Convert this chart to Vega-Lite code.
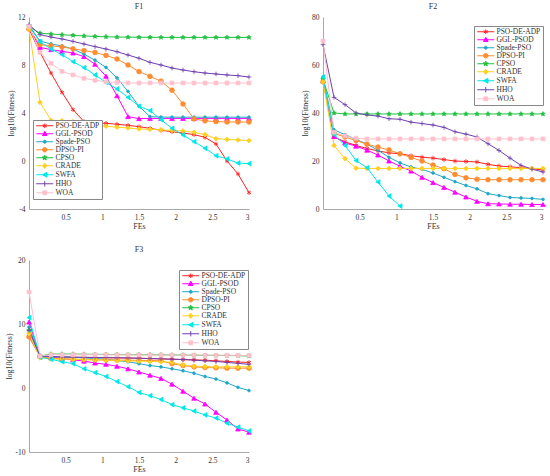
{
"$schema": "https://vega.github.io/schema/vega-lite/v6.json",
"background": "white",
"padding": {"left": 5, "top": 3, "right": 0, "bottom": 0},
"config": {
  "font": "Liberation Serif",
  "view": {"stroke": null},
  "locale": {"number": {"decimal": ".", "thousands": ",", "grouping": [3], "currency": ["$", ""], "minus": "-"}},
  "axis": {"grid": false, "ticks": true, "tickSize": 0, "labelOverlap": false, "labelSeparation": 0, "domainColor": "#a8a8a8", "labelColor": "#333333", "titleColor": "#333333", "labelFont": "Liberation Serif", "titleFont": "Liberation Serif", "labelFontSize": 7.5, "titleFontSize": 8, "titleFontWeight": "normal", "labelPadding": 4, "titlePadding": 2},
  "axisY": {"labelOverlap": false},
  "axisQuantitative": {"labelOverlap": false},
  "title": {"font": "Liberation Serif", "fontSize": 8, "fontWeight": "normal", "color": "#333333", "offset": 2}
},
"datasets": {
"f1": [
{"s":"PSO-DE-ADP","x":0,"y":11.0},{"s":"PSO-DE-ADP","x":0.15,"y":9.06},{"s":"PSO-DE-ADP","x":0.3,"y":7.33},{"s":"PSO-DE-ADP","x":0.45,"y":5.72},{"s":"PSO-DE-ADP","x":0.6,"y":4.28},{"s":"PSO-DE-ADP","x":0.75,"y":3.28},{"s":"PSO-DE-ADP","x":0.9,"y":3.17},{"s":"PSO-DE-ADP","x":1.05,"y":3.14},{"s":"PSO-DE-ADP","x":1.2,"y":3.06},{"s":"PSO-DE-ADP","x":1.35,"y":2.97},{"s":"PSO-DE-ADP","x":1.5,"y":2.86},{"s":"PSO-DE-ADP","x":1.65,"y":2.72},{"s":"PSO-DE-ADP","x":1.8,"y":2.56},{"s":"PSO-DE-ADP","x":1.95,"y":2.44},{"s":"PSO-DE-ADP","x":2.1,"y":2.33},{"s":"PSO-DE-ADP","x":2.25,"y":2.2},{"s":"PSO-DE-ADP","x":2.4,"y":1.97},{"s":"PSO-DE-ADP","x":2.55,"y":1.42},{"s":"PSO-DE-ADP","x":2.7,"y":0.0},{"s":"PSO-DE-ADP","x":2.85,"y":-1.08},{"s":"PSO-DE-ADP","x":3,"y":-2.64},
{"s":"GGL-PSOD","x":0,"y":11.1},{"s":"GGL-PSOD","x":0.15,"y":9.47},{"s":"GGL-PSOD","x":0.3,"y":9.28},{"s":"GGL-PSOD","x":0.45,"y":9.14},{"s":"GGL-PSOD","x":0.6,"y":9.0},{"s":"GGL-PSOD","x":0.75,"y":8.7},{"s":"GGL-PSOD","x":0.9,"y":8.06},{"s":"GGL-PSOD","x":1.05,"y":7.06},{"s":"GGL-PSOD","x":1.2,"y":5.44},{"s":"GGL-PSOD","x":1.35,"y":3.7},{"s":"GGL-PSOD","x":1.5,"y":3.53},{"s":"GGL-PSOD","x":1.65,"y":3.55},{"s":"GGL-PSOD","x":1.8,"y":3.55},{"s":"GGL-PSOD","x":1.95,"y":3.55},{"s":"GGL-PSOD","x":2.1,"y":3.55},{"s":"GGL-PSOD","x":2.25,"y":3.55},{"s":"GGL-PSOD","x":2.4,"y":3.55},{"s":"GGL-PSOD","x":2.55,"y":3.55},{"s":"GGL-PSOD","x":2.7,"y":3.55},{"s":"GGL-PSOD","x":2.85,"y":3.55},{"s":"GGL-PSOD","x":3,"y":3.55},
{"s":"Spade-PSO","x":0,"y":11.3},{"s":"Spade-PSO","x":0.15,"y":10.0},{"s":"Spade-PSO","x":0.3,"y":9.75},{"s":"Spade-PSO","x":0.45,"y":9.6},{"s":"Spade-PSO","x":0.6,"y":9.33},{"s":"Spade-PSO","x":0.75,"y":8.9},{"s":"Spade-PSO","x":0.9,"y":8.4},{"s":"Spade-PSO","x":1.05,"y":7.8},{"s":"Spade-PSO","x":1.2,"y":6.92},{"s":"Spade-PSO","x":1.35,"y":5.8},{"s":"Spade-PSO","x":1.5,"y":4.56},{"s":"Spade-PSO","x":1.65,"y":3.7},{"s":"Spade-PSO","x":1.8,"y":3.66},{"s":"Spade-PSO","x":1.95,"y":3.65},{"s":"Spade-PSO","x":2.1,"y":3.65},{"s":"Spade-PSO","x":2.25,"y":3.65},{"s":"Spade-PSO","x":2.4,"y":3.65},{"s":"Spade-PSO","x":2.55,"y":3.65},{"s":"Spade-PSO","x":2.7,"y":3.65},{"s":"Spade-PSO","x":2.85,"y":3.65},{"s":"Spade-PSO","x":3,"y":3.65},
{"s":"DPSO-PI","x":0,"y":11.0},{"s":"DPSO-PI","x":0.15,"y":9.7},{"s":"DPSO-PI","x":0.3,"y":9.6},{"s":"DPSO-PI","x":0.45,"y":9.5},{"s":"DPSO-PI","x":0.6,"y":9.35},{"s":"DPSO-PI","x":0.75,"y":9.2},{"s":"DPSO-PI","x":0.9,"y":9.05},{"s":"DPSO-PI","x":1.05,"y":8.8},{"s":"DPSO-PI","x":1.2,"y":8.5},{"s":"DPSO-PI","x":1.35,"y":8.0},{"s":"DPSO-PI","x":1.5,"y":7.45},{"s":"DPSO-PI","x":1.65,"y":7.05},{"s":"DPSO-PI","x":1.8,"y":6.65},{"s":"DPSO-PI","x":1.95,"y":5.9},{"s":"DPSO-PI","x":2.1,"y":4.75},{"s":"DPSO-PI","x":2.25,"y":3.5},{"s":"DPSO-PI","x":2.4,"y":3.35},{"s":"DPSO-PI","x":2.55,"y":3.28},{"s":"DPSO-PI","x":2.7,"y":3.25},{"s":"DPSO-PI","x":2.85,"y":3.25},{"s":"DPSO-PI","x":3,"y":3.25},
{"s":"CPSO","x":0,"y":11.2},{"s":"CPSO","x":0.15,"y":10.65},{"s":"CPSO","x":0.3,"y":10.58},{"s":"CPSO","x":0.45,"y":10.52},{"s":"CPSO","x":0.6,"y":10.47},{"s":"CPSO","x":0.75,"y":10.42},{"s":"CPSO","x":0.9,"y":10.38},{"s":"CPSO","x":1.05,"y":10.35},{"s":"CPSO","x":1.2,"y":10.33},{"s":"CPSO","x":1.35,"y":10.32},{"s":"CPSO","x":1.5,"y":10.31},{"s":"CPSO","x":1.65,"y":10.31},{"s":"CPSO","x":1.8,"y":10.3},{"s":"CPSO","x":1.95,"y":10.3},{"s":"CPSO","x":2.1,"y":10.3},{"s":"CPSO","x":2.25,"y":10.3},{"s":"CPSO","x":2.4,"y":10.3},{"s":"CPSO","x":2.55,"y":10.3},{"s":"CPSO","x":2.7,"y":10.3},{"s":"CPSO","x":2.85,"y":10.3},{"s":"CPSO","x":3,"y":10.3},
{"s":"CRADE","x":0,"y":11.0},{"s":"CRADE","x":0.15,"y":4.89},{"s":"CRADE","x":0.3,"y":3.39},{"s":"CRADE","x":0.45,"y":3.36},{"s":"CRADE","x":0.6,"y":3.28},{"s":"CRADE","x":0.75,"y":3.15},{"s":"CRADE","x":0.9,"y":3.0},{"s":"CRADE","x":1.05,"y":2.9},{"s":"CRADE","x":1.2,"y":2.82},{"s":"CRADE","x":1.35,"y":2.75},{"s":"CRADE","x":1.5,"y":2.67},{"s":"CRADE","x":1.65,"y":2.64},{"s":"CRADE","x":1.8,"y":2.6},{"s":"CRADE","x":1.95,"y":2.55},{"s":"CRADE","x":2.1,"y":2.5},{"s":"CRADE","x":2.25,"y":2.39},{"s":"CRADE","x":2.4,"y":2.2},{"s":"CRADE","x":2.55,"y":1.86},{"s":"CRADE","x":2.7,"y":1.8},{"s":"CRADE","x":2.85,"y":1.75},{"s":"CRADE","x":3,"y":1.7},
{"s":"SWFA","x":0,"y":11.2},{"s":"SWFA","x":0.15,"y":9.94},{"s":"SWFA","x":0.3,"y":9.33},{"s":"SWFA","x":0.45,"y":8.86},{"s":"SWFA","x":0.6,"y":8.28},{"s":"SWFA","x":0.75,"y":7.78},{"s":"SWFA","x":0.9,"y":7.17},{"s":"SWFA","x":1.05,"y":6.55},{"s":"SWFA","x":1.2,"y":6.0},{"s":"SWFA","x":1.35,"y":5.3},{"s":"SWFA","x":1.5,"y":4.56},{"s":"SWFA","x":1.65,"y":4.2},{"s":"SWFA","x":1.8,"y":3.44},{"s":"SWFA","x":1.95,"y":2.72},{"s":"SWFA","x":2.1,"y":2.17},{"s":"SWFA","x":2.25,"y":1.61},{"s":"SWFA","x":2.4,"y":1.06},{"s":"SWFA","x":2.55,"y":0.44},{"s":"SWFA","x":2.7,"y":0.17},{"s":"SWFA","x":2.85,"y":-0.17},{"s":"SWFA","x":3,"y":-0.22},
{"s":"HHO","x":0,"y":11.36},{"s":"HHO","x":0.15,"y":10.53},{"s":"HHO","x":0.3,"y":10.33},{"s":"HHO","x":0.45,"y":10.17},{"s":"HHO","x":0.6,"y":9.97},{"s":"HHO","x":0.75,"y":9.75},{"s":"HHO","x":0.9,"y":9.53},{"s":"HHO","x":1.05,"y":9.33},{"s":"HHO","x":1.2,"y":9.11},{"s":"HHO","x":1.35,"y":8.83},{"s":"HHO","x":1.5,"y":8.56},{"s":"HHO","x":1.65,"y":8.22},{"s":"HHO","x":1.8,"y":8.0},{"s":"HHO","x":1.95,"y":7.75},{"s":"HHO","x":2.1,"y":7.58},{"s":"HHO","x":2.25,"y":7.44},{"s":"HHO","x":2.4,"y":7.33},{"s":"HHO","x":2.55,"y":7.25},{"s":"HHO","x":2.7,"y":7.17},{"s":"HHO","x":2.85,"y":7.11},{"s":"HHO","x":3,"y":7.0},
{"s":"WOA","x":0,"y":11.2},{"s":"WOA","x":0.15,"y":9.06},{"s":"WOA","x":0.3,"y":8.14},{"s":"WOA","x":0.45,"y":7.47},{"s":"WOA","x":0.6,"y":7.17},{"s":"WOA","x":0.75,"y":6.89},{"s":"WOA","x":0.9,"y":6.72},{"s":"WOA","x":1.05,"y":6.6},{"s":"WOA","x":1.2,"y":6.55},{"s":"WOA","x":1.35,"y":6.5},{"s":"WOA","x":1.5,"y":6.5},{"s":"WOA","x":1.65,"y":6.5},{"s":"WOA","x":1.8,"y":6.5},{"s":"WOA","x":1.95,"y":6.5},{"s":"WOA","x":2.1,"y":6.5},{"s":"WOA","x":2.25,"y":6.5},{"s":"WOA","x":2.4,"y":6.5},{"s":"WOA","x":2.55,"y":6.5},{"s":"WOA","x":2.7,"y":6.5},{"s":"WOA","x":2.85,"y":6.5},{"s":"WOA","x":3,"y":6.5}
],
"f2": [
{"s":"PSO-DE-ADP","x":0,"y":54},{"s":"PSO-DE-ADP","x":0.15,"y":30},{"s":"PSO-DE-ADP","x":0.3,"y":28},{"s":"PSO-DE-ADP","x":0.45,"y":26.5},{"s":"PSO-DE-ADP","x":0.6,"y":25.2},{"s":"PSO-DE-ADP","x":0.75,"y":24.2},{"s":"PSO-DE-ADP","x":0.9,"y":23.4},{"s":"PSO-DE-ADP","x":1.05,"y":23.0},{"s":"PSO-DE-ADP","x":1.2,"y":22.2},{"s":"PSO-DE-ADP","x":1.35,"y":21.6},{"s":"PSO-DE-ADP","x":1.5,"y":21.2},{"s":"PSO-DE-ADP","x":1.65,"y":20.6},{"s":"PSO-DE-ADP","x":1.8,"y":20.0},{"s":"PSO-DE-ADP","x":1.95,"y":19.8},{"s":"PSO-DE-ADP","x":2.1,"y":19.6},{"s":"PSO-DE-ADP","x":2.25,"y":18.6},{"s":"PSO-DE-ADP","x":2.4,"y":17.9},{"s":"PSO-DE-ADP","x":2.55,"y":17.6},{"s":"PSO-DE-ADP","x":2.7,"y":17.2},{"s":"PSO-DE-ADP","x":2.85,"y":16.8},{"s":"PSO-DE-ADP","x":3,"y":16.2},
{"s":"GGL-PSOD","x":0,"y":53.5},{"s":"GGL-PSOD","x":0.15,"y":30.2},{"s":"GGL-PSOD","x":0.3,"y":27.5},{"s":"GGL-PSOD","x":0.45,"y":26.2},{"s":"GGL-PSOD","x":0.6,"y":24.5},{"s":"GGL-PSOD","x":0.75,"y":22.5},{"s":"GGL-PSOD","x":0.9,"y":20.0},{"s":"GGL-PSOD","x":1.05,"y":17.8},{"s":"GGL-PSOD","x":1.2,"y":15.8},{"s":"GGL-PSOD","x":1.35,"y":13.2},{"s":"GGL-PSOD","x":1.5,"y":11.0},{"s":"GGL-PSOD","x":1.65,"y":9.0},{"s":"GGL-PSOD","x":1.8,"y":7.0},{"s":"GGL-PSOD","x":1.95,"y":5.0},{"s":"GGL-PSOD","x":2.1,"y":3.2},{"s":"GGL-PSOD","x":2.25,"y":2.2},{"s":"GGL-PSOD","x":2.4,"y":2.1},{"s":"GGL-PSOD","x":2.55,"y":2.0},{"s":"GGL-PSOD","x":2.7,"y":2.0},{"s":"GGL-PSOD","x":2.85,"y":1.9},{"s":"GGL-PSOD","x":3,"y":1.9},
{"s":"Spade-PSO","x":0,"y":55},{"s":"Spade-PSO","x":0.15,"y":33},{"s":"Spade-PSO","x":0.3,"y":31},{"s":"Spade-PSO","x":0.45,"y":29},{"s":"Spade-PSO","x":0.6,"y":27},{"s":"Spade-PSO","x":0.75,"y":24.5},{"s":"Spade-PSO","x":0.9,"y":21.5},{"s":"Spade-PSO","x":1.05,"y":19.2},{"s":"Spade-PSO","x":1.2,"y":17.5},{"s":"Spade-PSO","x":1.35,"y":16.5},{"s":"Spade-PSO","x":1.5,"y":15.0},{"s":"Spade-PSO","x":1.65,"y":13.2},{"s":"Spade-PSO","x":1.8,"y":11.4},{"s":"Spade-PSO","x":1.95,"y":9.8},{"s":"Spade-PSO","x":2.1,"y":8.4},{"s":"Spade-PSO","x":2.25,"y":6.4},{"s":"Spade-PSO","x":2.4,"y":5.6},{"s":"Spade-PSO","x":2.55,"y":4.8},{"s":"Spade-PSO","x":2.7,"y":4.6},{"s":"Spade-PSO","x":2.85,"y":4.4},{"s":"Spade-PSO","x":3,"y":4.0},
{"s":"DPSO-PI","x":0,"y":53},{"s":"DPSO-PI","x":0.15,"y":31.5},{"s":"DPSO-PI","x":0.3,"y":30.0},{"s":"DPSO-PI","x":0.45,"y":28.5},{"s":"DPSO-PI","x":0.6,"y":27.0},{"s":"DPSO-PI","x":0.75,"y":25.8},{"s":"DPSO-PI","x":0.9,"y":24.6},{"s":"DPSO-PI","x":1.05,"y":23.0},{"s":"DPSO-PI","x":1.2,"y":21.5},{"s":"DPSO-PI","x":1.35,"y":20.0},{"s":"DPSO-PI","x":1.5,"y":18.3},{"s":"DPSO-PI","x":1.65,"y":16.8},{"s":"DPSO-PI","x":1.8,"y":14.4},{"s":"DPSO-PI","x":1.95,"y":13.0},{"s":"DPSO-PI","x":2.1,"y":12.4},{"s":"DPSO-PI","x":2.25,"y":12.2},{"s":"DPSO-PI","x":2.4,"y":12.2},{"s":"DPSO-PI","x":2.55,"y":12.2},{"s":"DPSO-PI","x":2.7,"y":12.2},{"s":"DPSO-PI","x":2.85,"y":12.2},{"s":"DPSO-PI","x":3,"y":12.2},
{"s":"CPSO","x":0,"y":54},{"s":"CPSO","x":0.15,"y":40},{"s":"CPSO","x":0.3,"y":39.6},{"s":"CPSO","x":0.45,"y":39.6},{"s":"CPSO","x":0.6,"y":39.6},{"s":"CPSO","x":0.75,"y":39.6},{"s":"CPSO","x":0.9,"y":39.6},{"s":"CPSO","x":1.05,"y":39.6},{"s":"CPSO","x":1.2,"y":39.6},{"s":"CPSO","x":1.35,"y":39.6},{"s":"CPSO","x":1.5,"y":39.6},{"s":"CPSO","x":1.65,"y":39.6},{"s":"CPSO","x":1.8,"y":39.6},{"s":"CPSO","x":1.95,"y":39.6},{"s":"CPSO","x":2.1,"y":39.6},{"s":"CPSO","x":2.25,"y":39.6},{"s":"CPSO","x":2.4,"y":39.6},{"s":"CPSO","x":2.55,"y":39.6},{"s":"CPSO","x":2.7,"y":39.6},{"s":"CPSO","x":2.85,"y":39.6},{"s":"CPSO","x":3,"y":39.6},
{"s":"CRADE","x":0,"y":53},{"s":"CRADE","x":0.15,"y":26.5},{"s":"CRADE","x":0.3,"y":21.0},{"s":"CRADE","x":0.45,"y":17.0},{"s":"CRADE","x":0.6,"y":16.9},{"s":"CRADE","x":0.75,"y":16.9},{"s":"CRADE","x":0.9,"y":16.9},{"s":"CRADE","x":1.05,"y":16.9},{"s":"CRADE","x":1.2,"y":16.9},{"s":"CRADE","x":1.35,"y":16.9},{"s":"CRADE","x":1.5,"y":16.9},{"s":"CRADE","x":1.65,"y":16.9},{"s":"CRADE","x":1.8,"y":16.9},{"s":"CRADE","x":1.95,"y":16.9},{"s":"CRADE","x":2.1,"y":16.9},{"s":"CRADE","x":2.25,"y":16.9},{"s":"CRADE","x":2.4,"y":16.9},{"s":"CRADE","x":2.55,"y":16.9},{"s":"CRADE","x":2.7,"y":16.9},{"s":"CRADE","x":2.85,"y":16.9},{"s":"CRADE","x":3,"y":16.9},
{"s":"SWFA","x":0,"y":55},{"s":"SWFA","x":0.15,"y":31},{"s":"SWFA","x":0.3,"y":26.5},{"s":"SWFA","x":0.45,"y":20.2},{"s":"SWFA","x":0.6,"y":17.2},{"s":"SWFA","x":0.75,"y":11.2},{"s":"SWFA","x":0.9,"y":5.4},{"s":"SWFA","x":1.05,"y":1.2},
{"s":"HHO","x":0,"y":68.5},{"s":"HHO","x":0.15,"y":46.5},{"s":"HHO","x":0.3,"y":43.5},{"s":"HHO","x":0.45,"y":40.0},{"s":"HHO","x":0.6,"y":39.2},{"s":"HHO","x":0.75,"y":38.7},{"s":"HHO","x":0.9,"y":37.6},{"s":"HHO","x":1.05,"y":37.4},{"s":"HHO","x":1.2,"y":36.2},{"s":"HHO","x":1.35,"y":35.6},{"s":"HHO","x":1.5,"y":35.0},{"s":"HHO","x":1.65,"y":34.0},{"s":"HHO","x":1.8,"y":32.2},{"s":"HHO","x":1.95,"y":31.2},{"s":"HHO","x":2.1,"y":30.0},{"s":"HHO","x":2.25,"y":27.2},{"s":"HHO","x":2.4,"y":24.4},{"s":"HHO","x":2.55,"y":21.2},{"s":"HHO","x":2.7,"y":18.2},{"s":"HHO","x":2.85,"y":16.6},{"s":"HHO","x":3,"y":15.4},
{"s":"WOA","x":0,"y":70},{"s":"WOA","x":0.15,"y":32},{"s":"WOA","x":0.3,"y":30.5},{"s":"WOA","x":0.45,"y":29.5},{"s":"WOA","x":0.6,"y":29.2},{"s":"WOA","x":0.75,"y":29.2},{"s":"WOA","x":0.9,"y":29.2},{"s":"WOA","x":1.05,"y":29.2},{"s":"WOA","x":1.2,"y":29.2},{"s":"WOA","x":1.35,"y":29.2},{"s":"WOA","x":1.5,"y":29.2},{"s":"WOA","x":1.65,"y":29.2},{"s":"WOA","x":1.8,"y":29.2},{"s":"WOA","x":1.95,"y":29.2},{"s":"WOA","x":2.1,"y":29.2},{"s":"WOA","x":2.25,"y":29.2},{"s":"WOA","x":2.4,"y":29.2},{"s":"WOA","x":2.55,"y":29.2},{"s":"WOA","x":2.7,"y":29.2},{"s":"WOA","x":2.85,"y":29.2},{"s":"WOA","x":3,"y":29.2}
],
"f3": [
{"s":"PSO-DE-ADP","x":0,"y":8.0},{"s":"PSO-DE-ADP","x":0.15,"y":5.0},{"s":"PSO-DE-ADP","x":0.3,"y":4.9},{"s":"PSO-DE-ADP","x":0.45,"y":4.85},{"s":"PSO-DE-ADP","x":0.6,"y":4.8},{"s":"PSO-DE-ADP","x":0.75,"y":4.78},{"s":"PSO-DE-ADP","x":0.9,"y":4.75},{"s":"PSO-DE-ADP","x":1.05,"y":4.72},{"s":"PSO-DE-ADP","x":1.2,"y":4.7},{"s":"PSO-DE-ADP","x":1.35,"y":4.68},{"s":"PSO-DE-ADP","x":1.5,"y":4.65},{"s":"PSO-DE-ADP","x":1.65,"y":4.6},{"s":"PSO-DE-ADP","x":1.8,"y":4.55},{"s":"PSO-DE-ADP","x":1.95,"y":4.5},{"s":"PSO-DE-ADP","x":2.1,"y":4.45},{"s":"PSO-DE-ADP","x":2.25,"y":4.4},{"s":"PSO-DE-ADP","x":2.4,"y":4.35},{"s":"PSO-DE-ADP","x":2.55,"y":4.25},{"s":"PSO-DE-ADP","x":2.7,"y":4.15},{"s":"PSO-DE-ADP","x":2.85,"y":4.05},{"s":"PSO-DE-ADP","x":3,"y":4.0},
{"s":"GGL-PSOD","x":0,"y":10.3},{"s":"GGL-PSOD","x":0.15,"y":5.0},{"s":"GGL-PSOD","x":0.3,"y":4.8},{"s":"GGL-PSOD","x":0.45,"y":4.6},{"s":"GGL-PSOD","x":0.6,"y":4.4},{"s":"GGL-PSOD","x":0.75,"y":4.2},{"s":"GGL-PSOD","x":0.9,"y":3.9},{"s":"GGL-PSOD","x":1.05,"y":3.7},{"s":"GGL-PSOD","x":1.2,"y":3.4},{"s":"GGL-PSOD","x":1.35,"y":3.0},{"s":"GGL-PSOD","x":1.5,"y":2.5},{"s":"GGL-PSOD","x":1.65,"y":2.0},{"s":"GGL-PSOD","x":1.8,"y":1.5},{"s":"GGL-PSOD","x":1.95,"y":0.6},{"s":"GGL-PSOD","x":2.1,"y":-0.5},{"s":"GGL-PSOD","x":2.25,"y":-1.6},{"s":"GGL-PSOD","x":2.4,"y":-2.5},{"s":"GGL-PSOD","x":2.55,"y":-3.8},{"s":"GGL-PSOD","x":2.7,"y":-5.0},{"s":"GGL-PSOD","x":2.85,"y":-6.4},{"s":"GGL-PSOD","x":3,"y":-6.9},
{"s":"Spade-PSO","x":0,"y":9.5},{"s":"Spade-PSO","x":0.15,"y":5.0},{"s":"Spade-PSO","x":0.3,"y":4.9},{"s":"Spade-PSO","x":0.45,"y":4.85},{"s":"Spade-PSO","x":0.6,"y":4.8},{"s":"Spade-PSO","x":0.75,"y":4.7},{"s":"Spade-PSO","x":0.9,"y":4.6},{"s":"Spade-PSO","x":1.05,"y":4.5},{"s":"Spade-PSO","x":1.2,"y":4.3},{"s":"Spade-PSO","x":1.35,"y":4.1},{"s":"Spade-PSO","x":1.5,"y":3.8},{"s":"Spade-PSO","x":1.65,"y":3.5},{"s":"Spade-PSO","x":1.8,"y":3.3},{"s":"Spade-PSO","x":1.95,"y":3.0},{"s":"Spade-PSO","x":2.1,"y":2.7},{"s":"Spade-PSO","x":2.25,"y":2.3},{"s":"Spade-PSO","x":2.4,"y":1.8},{"s":"Spade-PSO","x":2.55,"y":1.4},{"s":"Spade-PSO","x":2.7,"y":0.8},{"s":"Spade-PSO","x":2.85,"y":0.1},{"s":"Spade-PSO","x":3,"y":-0.4},
{"s":"DPSO-PI","x":0,"y":8.0},{"s":"DPSO-PI","x":0.15,"y":4.9},{"s":"DPSO-PI","x":0.3,"y":4.6},{"s":"DPSO-PI","x":0.45,"y":4.5},{"s":"DPSO-PI","x":0.6,"y":4.5},{"s":"DPSO-PI","x":0.75,"y":4.45},{"s":"DPSO-PI","x":0.9,"y":4.4},{"s":"DPSO-PI","x":1.05,"y":4.4},{"s":"DPSO-PI","x":1.2,"y":4.35},{"s":"DPSO-PI","x":1.35,"y":4.35},{"s":"DPSO-PI","x":1.5,"y":4.3},{"s":"DPSO-PI","x":1.65,"y":4.3},{"s":"DPSO-PI","x":1.8,"y":4.25},{"s":"DPSO-PI","x":1.95,"y":3.8},{"s":"DPSO-PI","x":2.1,"y":3.5},{"s":"DPSO-PI","x":2.25,"y":3.3},{"s":"DPSO-PI","x":2.4,"y":3.2},{"s":"DPSO-PI","x":2.55,"y":3.15},{"s":"DPSO-PI","x":2.7,"y":3.1},{"s":"DPSO-PI","x":2.85,"y":3.1},{"s":"DPSO-PI","x":3,"y":3.1},
{"s":"CPSO","x":0,"y":9.0},{"s":"CPSO","x":0.15,"y":5.0},{"s":"CPSO","x":0.3,"y":5.3},{"s":"CPSO","x":0.45,"y":5.3},{"s":"CPSO","x":0.6,"y":5.3},{"s":"CPSO","x":0.75,"y":5.28},{"s":"CPSO","x":0.9,"y":5.25},{"s":"CPSO","x":1.05,"y":5.25},{"s":"CPSO","x":1.2,"y":5.22},{"s":"CPSO","x":1.35,"y":5.2},{"s":"CPSO","x":1.5,"y":5.2},{"s":"CPSO","x":1.65,"y":5.2},{"s":"CPSO","x":1.8,"y":5.18},{"s":"CPSO","x":1.95,"y":5.15},{"s":"CPSO","x":2.1,"y":5.15},{"s":"CPSO","x":2.25,"y":5.12},{"s":"CPSO","x":2.4,"y":5.1},{"s":"CPSO","x":2.55,"y":5.1},{"s":"CPSO","x":2.7,"y":5.08},{"s":"CPSO","x":2.85,"y":5.05},{"s":"CPSO","x":3,"y":5.0},
{"s":"CRADE","x":0,"y":8.5},{"s":"CRADE","x":0.15,"y":4.7},{"s":"CRADE","x":0.3,"y":4.6},{"s":"CRADE","x":0.45,"y":4.55},{"s":"CRADE","x":0.6,"y":4.5},{"s":"CRADE","x":0.75,"y":4.45},{"s":"CRADE","x":0.9,"y":4.4},{"s":"CRADE","x":1.05,"y":4.35},{"s":"CRADE","x":1.2,"y":4.3},{"s":"CRADE","x":1.35,"y":4.25},{"s":"CRADE","x":1.5,"y":4.2},{"s":"CRADE","x":1.65,"y":4.15},{"s":"CRADE","x":1.8,"y":4.1},{"s":"CRADE","x":1.95,"y":4.0},{"s":"CRADE","x":2.1,"y":3.6},{"s":"CRADE","x":2.25,"y":3.4},{"s":"CRADE","x":2.4,"y":3.35},{"s":"CRADE","x":2.55,"y":3.3},{"s":"CRADE","x":2.7,"y":3.3},{"s":"CRADE","x":2.85,"y":3.3},{"s":"CRADE","x":3,"y":3.3},
{"s":"SWFA","x":0,"y":11.0},{"s":"SWFA","x":0.15,"y":4.8},{"s":"SWFA","x":0.3,"y":4.5},{"s":"SWFA","x":0.45,"y":4.1},{"s":"SWFA","x":0.6,"y":3.8},{"s":"SWFA","x":0.75,"y":3.0},{"s":"SWFA","x":0.9,"y":2.4},{"s":"SWFA","x":1.05,"y":1.8},{"s":"SWFA","x":1.2,"y":1.0},{"s":"SWFA","x":1.35,"y":0.2},{"s":"SWFA","x":1.5,"y":-0.7},{"s":"SWFA","x":1.65,"y":-1.2},{"s":"SWFA","x":1.8,"y":-1.8},{"s":"SWFA","x":1.95,"y":-2.6},{"s":"SWFA","x":2.1,"y":-3.1},{"s":"SWFA","x":2.25,"y":-3.6},{"s":"SWFA","x":2.4,"y":-4.2},{"s":"SWFA","x":2.55,"y":-4.7},{"s":"SWFA","x":2.7,"y":-5.5},{"s":"SWFA","x":2.85,"y":-6.1},{"s":"SWFA","x":3,"y":-6.7},
{"s":"HHO","x":0,"y":9.0},{"s":"HHO","x":0.15,"y":5.0},{"s":"HHO","x":0.3,"y":4.9},{"s":"HHO","x":0.45,"y":4.85},{"s":"HHO","x":0.6,"y":4.82},{"s":"HHO","x":0.75,"y":4.8},{"s":"HHO","x":0.9,"y":4.78},{"s":"HHO","x":1.05,"y":4.75},{"s":"HHO","x":1.2,"y":4.72},{"s":"HHO","x":1.35,"y":4.7},{"s":"HHO","x":1.5,"y":4.65},{"s":"HHO","x":1.65,"y":4.6},{"s":"HHO","x":1.8,"y":4.55},{"s":"HHO","x":1.95,"y":4.5},{"s":"HHO","x":2.1,"y":4.45},{"s":"HHO","x":2.25,"y":4.35},{"s":"HHO","x":2.4,"y":4.25},{"s":"HHO","x":2.55,"y":4.15},{"s":"HHO","x":2.7,"y":4.0},{"s":"HHO","x":2.85,"y":3.85},{"s":"HHO","x":3,"y":3.7},
{"s":"WOA","x":0,"y":15.0},{"s":"WOA","x":0.15,"y":5.0},{"s":"WOA","x":0.3,"y":5.2},{"s":"WOA","x":0.45,"y":5.2},{"s":"WOA","x":0.6,"y":5.2},{"s":"WOA","x":0.75,"y":5.2},{"s":"WOA","x":0.9,"y":5.2},{"s":"WOA","x":1.05,"y":5.2},{"s":"WOA","x":1.2,"y":5.18},{"s":"WOA","x":1.35,"y":5.18},{"s":"WOA","x":1.5,"y":5.16},{"s":"WOA","x":1.65,"y":5.16},{"s":"WOA","x":1.8,"y":5.15},{"s":"WOA","x":1.95,"y":5.15},{"s":"WOA","x":2.1,"y":5.14},{"s":"WOA","x":2.25,"y":5.14},{"s":"WOA","x":2.4,"y":5.13},{"s":"WOA","x":2.55,"y":5.12},{"s":"WOA","x":2.7,"y":5.12},{"s":"WOA","x":2.85,"y":5.1},{"s":"WOA","x":3,"y":5.1}
]
},
"resolve": {"scale": {"color": "independent", "stroke": "independent", "shape": "independent"}, "legend": {"color": "independent", "stroke": "independent", "shape": "independent"}},
"spacing": 15,
"vconcat": [
{
"resolve": {"scale": {"color": "independent", "stroke": "independent", "shape": "independent"}, "legend": {"color": "independent", "stroke": "independent", "shape": "independent"}},
"spacing": 36,
"hconcat": [
{
"title": "F1", "width": 220, "height": 192,
"data": {"name": "f1"},
"resolve": {"scale": {"shape": "independent"}, "legend": {"color": "independent", "stroke": "independent", "shape": "independent"}},
"encoding": {
  "x": {"field": "x", "type": "quantitative", "scale": {"domain": [0, 3], "nice": false}, "axis": {"values": [0.5, 1, 1.5, 2, 2.5, 3], "format": "~g", "title": "FEs", "labelOverlap": false}},
  "y": {"field": "y", "type": "quantitative", "scale": {"domain": [-4, 12], "nice": false}, "axis": {"values": [-4, -2, 0, 2, 4, 6, 8, 10, 12], "tickCount": 8, "title": "log10(Fitness)", "labelOverlap": false}}
},
"layer": [
{"mark": {"type": "line", "strokeWidth": 1},
 "encoding": {
  "color": {"field": "s", "type": "nominal", "scale": {"domain": ["PSO-DE-ADP","GGL-PSOD","Spade-PSO","DPSO-PI","CPSO","CRADE","SWFA","HHO","WOA"], "range": ["#ff2020","#ff00ff","#20a8c8","#ff8c30","#20c040","#ffd020","#00e8e8","#7040b0","#ffc0cc"]}, "legend": null}}},
{"mark": {"type": "point", "filled": true, "size": 22, "strokeWidth": 0.8, "opacity": 1},
 "encoding": {
  "color": {"field": "s", "type": "nominal", "legend": null},
  "stroke": {"field": "s", "type": "nominal", "scale": {"domain": ["PSO-DE-ADP","GGL-PSOD","Spade-PSO","DPSO-PI","CPSO","CRADE","SWFA","HHO","WOA"], "range": ["#ff2020","#ff00ff","#20a8c8","#ff8c30","#20c040","#ffd020","#00e8e8","#7040b0","#ffc0cc"]}, "legend": null},
  "shape": {"field": "s", "type": "nominal", "scale": {"domain": ["PSO-DE-ADP","GGL-PSOD","Spade-PSO","DPSO-PI","CPSO","CRADE","SWFA","HHO","WOA"], "range": ["M0,-1V1M-0.87,-0.5L0.87,0.5M-0.87,0.5L0.87,-0.5","triangle-up","M-0.6,0A0.6,0.6 0 1,0 0.6,0A0.6,0.6 0 1,0 -0.6,0Z","circle","M0,-1L0.235,-0.324L0.951,-0.309L0.38,0.124L0.588,0.809L0,0.4L-0.588,0.809L-0.38,0.124L-0.951,-0.309L-0.235,-0.324Z","diamond","triangle-left","M0,-1V1M-1,0H1","M-0.8,-0.8H0.8V0.8H-0.8Z"]}, "legend": null}}},
{"mark": {"type": "point", "filled": true, "opacity": 0},
 "encoding": {
  "color": {"field": "s", "type": "nominal", "legend": {"orient": "none", "legendX": 4, "legendY": 103, "title": null, "symbolSize": 25, "symbolOpacity": 1, "symbolStrokeWidth": 1, "labelFontSize": 7.5, "labelFont": "Liberation Serif", "labelColor": "#333333", "strokeColor": "#888888", "fillColor": "white", "padding": 2, "rowPadding": -1.5, "labelOffset": 13}},
  "stroke": {"field": "s", "type": "nominal", "legend": {"orient": "none", "legendX": 4, "legendY": 103, "title": null, "symbolSize": 25, "symbolOpacity": 1, "symbolStrokeWidth": 1, "labelFontSize": 7.5, "labelFont": "Liberation Serif", "labelColor": "#333333", "strokeColor": "#888888", "fillColor": "white", "padding": 2, "rowPadding": -1.5, "labelOffset": 13}},
  "shape": {"field": "s", "type": "nominal", "scale": {"domain": ["PSO-DE-ADP","GGL-PSOD","Spade-PSO","DPSO-PI","CPSO","CRADE","SWFA","HHO","WOA"], "range": ["M-1,0H5.8M2.4,-0.9V0.9M1.6,-0.45L3.2,0.45M1.6,0.45L3.2,-0.45","M-1,0H5.8M2.4,-1L3.3,0.7H1.5Z","M-1,0H5.8M1.8,0A0.6,0.6 0 1,0 3,0A0.6,0.6 0 1,0 1.8,0Z","M-1,0H5.8M1.5,0A0.9,0.9 0 1,0 3.3,0A0.9,0.9 0 1,0 1.5,0Z","M-1,0H5.8M2.4,-1.05L2.65,-0.34L3.4,-0.32L2.8,0.13L3.02,0.85L2.4,0.42L1.78,0.85L2,0.13L1.4,-0.32L2.15,-0.34Z","M-1,0H5.8M2.4,-1.05L3.2,0L2.4,1.05L1.6,0Z","M-1,0H5.8M1.5,0L3.3,-0.95V0.95Z","M-1,0H5.8M2.4,-1.05V1.05","M-1,0H5.8M1.65,-0.75H3.15V0.75H1.65Z"]}, "legend": {"orient": "none", "legendX": 4, "legendY": 103, "title": null, "symbolSize": 25, "symbolOpacity": 1, "symbolStrokeWidth": 1, "labelFontSize": 7.5, "labelFont": "Liberation Serif", "labelColor": "#333333", "strokeColor": "#888888", "fillColor": "white", "padding": 2, "rowPadding": -1.5, "labelOffset": 13}}}},
{"data": {"values": [{"t": "×10⁵"}]},
 "mark": {"type": "text", "align": "right", "baseline": "middle", "dy": 19, "fontSize": 7, "font": "Liberation Serif", "color": "#333333"},
 "encoding": {"x": {"datum": 3, "type": "quantitative", "axis": {"values": [0.5, 1, 1.5, 2, 2.5, 3], "format": "~g", "title": "FEs", "labelOverlap": false}}, "y": {"datum": -4, "type": "quantitative", "axis": {"values": [-4, -2, 0, 2, 4, 6, 8, 10, 12], "tickCount": 8, "title": "log10(Fitness)", "labelOverlap": false}}, "text": {"field": "t", "type": "nominal"}}}
]
},
{
"title": "F2", "width": 220, "height": 192,
"data": {"name": "f2"},
"resolve": {"scale": {"shape": "independent"}, "legend": {"color": "independent", "stroke": "independent", "shape": "independent"}},
"encoding": {
  "x": {"field": "x", "type": "quantitative", "scale": {"domain": [0, 3], "nice": false}, "axis": {"values": [0.5, 1, 1.5, 2, 2.5, 3], "format": "~g", "title": "FEs", "labelOverlap": false}},
  "y": {"field": "y", "type": "quantitative", "scale": {"domain": [0, 80], "nice": false}, "axis": {"values": [0, 10, 20, 30, 40, 50, 60, 70, 80], "tickCount": 8, "title": "log10(Fitness)", "labelOverlap": false}}
},
"layer": [
{"mark": {"type": "line", "strokeWidth": 1},
 "encoding": {
  "color": {"field": "s", "type": "nominal", "scale": {"domain": ["PSO-DE-ADP","GGL-PSOD","Spade-PSO","DPSO-PI","CPSO","CRADE","SWFA","HHO","WOA"], "range": ["#ff2020","#ff00ff","#20a8c8","#ff8c30","#20c040","#ffd020","#00e8e8","#7040b0","#ffc0cc"]}, "legend": null}}},
{"mark": {"type": "point", "filled": true, "size": 22, "strokeWidth": 0.8, "opacity": 1},
 "encoding": {
  "color": {"field": "s", "type": "nominal", "legend": null},
  "stroke": {"field": "s", "type": "nominal", "scale": {"domain": ["PSO-DE-ADP","GGL-PSOD","Spade-PSO","DPSO-PI","CPSO","CRADE","SWFA","HHO","WOA"], "range": ["#ff2020","#ff00ff","#20a8c8","#ff8c30","#20c040","#ffd020","#00e8e8","#7040b0","#ffc0cc"]}, "legend": null},
  "shape": {"field": "s", "type": "nominal", "scale": {"domain": ["PSO-DE-ADP","GGL-PSOD","Spade-PSO","DPSO-PI","CPSO","CRADE","SWFA","HHO","WOA"], "range": ["M0,-1V1M-0.87,-0.5L0.87,0.5M-0.87,0.5L0.87,-0.5","triangle-up","M-0.6,0A0.6,0.6 0 1,0 0.6,0A0.6,0.6 0 1,0 -0.6,0Z","circle","M0,-1L0.235,-0.324L0.951,-0.309L0.38,0.124L0.588,0.809L0,0.4L-0.588,0.809L-0.38,0.124L-0.951,-0.309L-0.235,-0.324Z","diamond","triangle-left","M0,-1V1M-1,0H1","M-0.8,-0.8H0.8V0.8H-0.8Z"]}, "legend": null}}},
{"mark": {"type": "point", "filled": true, "opacity": 0},
 "encoding": {
  "color": {"field": "s", "type": "nominal", "legend": {"orient": "none", "legendX": 151, "legendY": 9, "title": null, "symbolSize": 25, "symbolOpacity": 1, "symbolStrokeWidth": 1, "labelFontSize": 7.5, "labelFont": "Liberation Serif", "labelColor": "#333333", "strokeColor": "#888888", "fillColor": "white", "padding": 2, "rowPadding": -1.5, "labelOffset": 13}},
  "stroke": {"field": "s", "type": "nominal", "legend": {"orient": "none", "legendX": 151, "legendY": 9, "title": null, "symbolSize": 25, "symbolOpacity": 1, "symbolStrokeWidth": 1, "labelFontSize": 7.5, "labelFont": "Liberation Serif", "labelColor": "#333333", "strokeColor": "#888888", "fillColor": "white", "padding": 2, "rowPadding": -1.5, "labelOffset": 13}},
  "shape": {"field": "s", "type": "nominal", "scale": {"domain": ["PSO-DE-ADP","GGL-PSOD","Spade-PSO","DPSO-PI","CPSO","CRADE","SWFA","HHO","WOA"], "range": ["M-1,0H5.8M2.4,-0.9V0.9M1.6,-0.45L3.2,0.45M1.6,0.45L3.2,-0.45","M-1,0H5.8M2.4,-1L3.3,0.7H1.5Z","M-1,0H5.8M1.8,0A0.6,0.6 0 1,0 3,0A0.6,0.6 0 1,0 1.8,0Z","M-1,0H5.8M1.5,0A0.9,0.9 0 1,0 3.3,0A0.9,0.9 0 1,0 1.5,0Z","M-1,0H5.8M2.4,-1.05L2.65,-0.34L3.4,-0.32L2.8,0.13L3.02,0.85L2.4,0.42L1.78,0.85L2,0.13L1.4,-0.32L2.15,-0.34Z","M-1,0H5.8M2.4,-1.05L3.2,0L2.4,1.05L1.6,0Z","M-1,0H5.8M1.5,0L3.3,-0.95V0.95Z","M-1,0H5.8M2.4,-1.05V1.05","M-1,0H5.8M1.65,-0.75H3.15V0.75H1.65Z"]}, "legend": {"orient": "none", "legendX": 151, "legendY": 9, "title": null, "symbolSize": 25, "symbolOpacity": 1, "symbolStrokeWidth": 1, "labelFontSize": 7.5, "labelFont": "Liberation Serif", "labelColor": "#333333", "strokeColor": "#888888", "fillColor": "white", "padding": 2, "rowPadding": -1.5, "labelOffset": 13}}}},
{"data": {"values": [{"t": "×10⁵"}]},
 "mark": {"type": "text", "align": "right", "baseline": "middle", "dy": 19, "fontSize": 7, "font": "Liberation Serif", "color": "#333333"},
 "encoding": {"x": {"datum": 3, "type": "quantitative", "axis": {"values": [0.5, 1, 1.5, 2, 2.5, 3], "format": "~g", "title": "FEs", "labelOverlap": false}}, "y": {"datum": 0, "type": "quantitative", "axis": {"values": [0, 10, 20, 30, 40, 50, 60, 70, 80], "tickCount": 8, "title": "log10(Fitness)", "labelOverlap": false}}, "text": {"field": "t", "type": "nominal"}}}
]
}
]
},
{
"title": "F3", "width": 220, "height": 192,
"data": {"name": "f3"},
"resolve": {"scale": {"shape": "independent"}, "legend": {"color": "independent", "stroke": "independent", "shape": "independent"}},
"encoding": {
  "x": {"field": "x", "type": "quantitative", "scale": {"domain": [0, 3], "nice": false}, "axis": {"values": [0.5, 1, 1.5, 2, 2.5, 3], "format": "~g", "title": "FEs", "labelOverlap": false}},
  "y": {"field": "y", "type": "quantitative", "scale": {"domain": [-10, 20], "nice": false}, "axis": {"values": [-10, -5, 0, 5, 10, 15, 20], "tickCount": 6, "title": "log10(Fitness)", "labelOverlap": false}}
},
"layer": [
{"mark": {"type": "line", "strokeWidth": 1},
 "encoding": {
  "color": {"field": "s", "type": "nominal", "scale": {"domain": ["PSO-DE-ADP","GGL-PSOD","Spade-PSO","DPSO-PI","CPSO","CRADE","SWFA","HHO","WOA"], "range": ["#ff2020","#ff00ff","#20a8c8","#ff8c30","#20c040","#ffd020","#00e8e8","#7040b0","#ffc0cc"]}, "legend": null}}},
{"mark": {"type": "point", "filled": true, "size": 22, "strokeWidth": 0.8, "opacity": 1},
 "encoding": {
  "color": {"field": "s", "type": "nominal", "legend": null},
  "stroke": {"field": "s", "type": "nominal", "scale": {"domain": ["PSO-DE-ADP","GGL-PSOD","Spade-PSO","DPSO-PI","CPSO","CRADE","SWFA","HHO","WOA"], "range": ["#ff2020","#ff00ff","#20a8c8","#ff8c30","#20c040","#ffd020","#00e8e8","#7040b0","#ffc0cc"]}, "legend": null},
  "shape": {"field": "s", "type": "nominal", "scale": {"domain": ["PSO-DE-ADP","GGL-PSOD","Spade-PSO","DPSO-PI","CPSO","CRADE","SWFA","HHO","WOA"], "range": ["M0,-1V1M-0.87,-0.5L0.87,0.5M-0.87,0.5L0.87,-0.5","triangle-up","M-0.6,0A0.6,0.6 0 1,0 0.6,0A0.6,0.6 0 1,0 -0.6,0Z","circle","M0,-1L0.235,-0.324L0.951,-0.309L0.38,0.124L0.588,0.809L0,0.4L-0.588,0.809L-0.38,0.124L-0.951,-0.309L-0.235,-0.324Z","diamond","triangle-left","M0,-1V1M-1,0H1","M-0.8,-0.8H0.8V0.8H-0.8Z"]}, "legend": null}}},
{"mark": {"type": "point", "filled": true, "opacity": 0},
 "encoding": {
  "color": {"field": "s", "type": "nominal", "legend": {"orient": "none", "legendX": 150, "legendY": 10, "title": null, "symbolSize": 25, "symbolOpacity": 1, "symbolStrokeWidth": 1, "labelFontSize": 7.5, "labelFont": "Liberation Serif", "labelColor": "#333333", "strokeColor": "#888888", "fillColor": "white", "padding": 2, "rowPadding": -1.5, "labelOffset": 13}},
  "stroke": {"field": "s", "type": "nominal", "legend": {"orient": "none", "legendX": 150, "legendY": 10, "title": null, "symbolSize": 25, "symbolOpacity": 1, "symbolStrokeWidth": 1, "labelFontSize": 7.5, "labelFont": "Liberation Serif", "labelColor": "#333333", "strokeColor": "#888888", "fillColor": "white", "padding": 2, "rowPadding": -1.5, "labelOffset": 13}},
  "shape": {"field": "s", "type": "nominal", "scale": {"domain": ["PSO-DE-ADP","GGL-PSOD","Spade-PSO","DPSO-PI","CPSO","CRADE","SWFA","HHO","WOA"], "range": ["M-1,0H5.8M2.4,-0.9V0.9M1.6,-0.45L3.2,0.45M1.6,0.45L3.2,-0.45","M-1,0H5.8M2.4,-1L3.3,0.7H1.5Z","M-1,0H5.8M1.8,0A0.6,0.6 0 1,0 3,0A0.6,0.6 0 1,0 1.8,0Z","M-1,0H5.8M1.5,0A0.9,0.9 0 1,0 3.3,0A0.9,0.9 0 1,0 1.5,0Z","M-1,0H5.8M2.4,-1.05L2.65,-0.34L3.4,-0.32L2.8,0.13L3.02,0.85L2.4,0.42L1.78,0.85L2,0.13L1.4,-0.32L2.15,-0.34Z","M-1,0H5.8M2.4,-1.05L3.2,0L2.4,1.05L1.6,0Z","M-1,0H5.8M1.5,0L3.3,-0.95V0.95Z","M-1,0H5.8M2.4,-1.05V1.05","M-1,0H5.8M1.65,-0.75H3.15V0.75H1.65Z"]}, "legend": {"orient": "none", "legendX": 150, "legendY": 10, "title": null, "symbolSize": 25, "symbolOpacity": 1, "symbolStrokeWidth": 1, "labelFontSize": 7.5, "labelFont": "Liberation Serif", "labelColor": "#333333", "strokeColor": "#888888", "fillColor": "white", "padding": 2, "rowPadding": -1.5, "labelOffset": 13}}}},
{"data": {"values": [{"t": "×10⁵"}]},
 "mark": {"type": "text", "align": "right", "baseline": "middle", "dy": 19, "fontSize": 7, "font": "Liberation Serif", "color": "#333333"},
 "encoding": {"x": {"datum": 3, "type": "quantitative", "axis": {"values": [0.5, 1, 1.5, 2, 2.5, 3], "format": "~g", "title": "FEs", "labelOverlap": false}}, "y": {"datum": -10, "type": "quantitative", "axis": {"values": [-10, -5, 0, 5, 10, 15, 20], "tickCount": 6, "title": "log10(Fitness)", "labelOverlap": false}}, "text": {"field": "t", "type": "nominal"}}}
]
}
]
}
